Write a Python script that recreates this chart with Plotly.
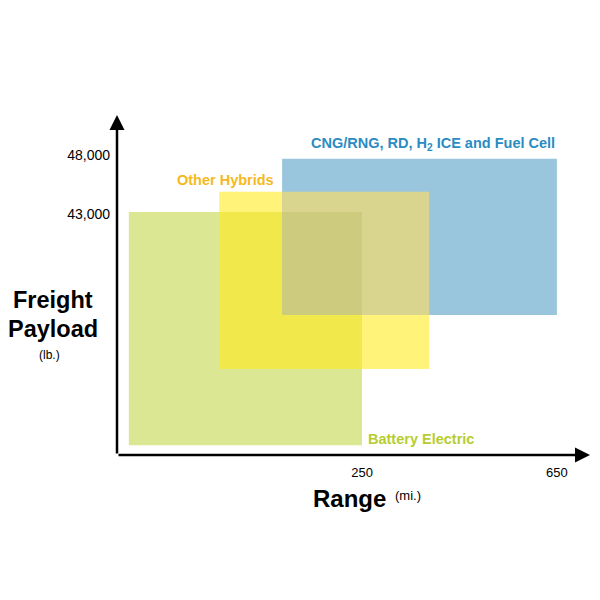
import plotly.graph_objects as go
from itertools import combinations

# ---- data (schematic units: 0-100 on each axis) ----
categories = ["Battery Electric", "Other Hybrids", "CNG/RNG, RD, H<sub>2</sub> ICE and Fuel Cell"]
range_start = [2.5, 21.6, 34.9]
range_end = [51.8, 66.0, 93.0]
payload_start = [2.9, 25.3, 41.2]
payload_end = [71.5, 77.4, 87.1]

x_tick_vals = [51.8, 93.0]
x_tick_text = ["250", "650"]
y_tick_vals = [88.2, 70.9]
y_tick_text = ["48,000", "43,000"]

# ---- styles ----
FONT = "Liberation Sans, Arial, Helvetica, sans-serif"
fill_single = {0: "#dce794", 1: "#fff37a", 2: "#99c6dd"}
fill_overlap = {(0, 1): "#f1e84c", (1, 2): "#d9d58f", (0, 2): "#cdcb7d", (0, 1, 2): "#cdcb7d"}
label_color = ["#b6cd2f", "#f5b91e", "#2a8cc2"]
LABEL_SIZE = 14.5

fig = go.Figure()
shapes = []


def add_rect(x0, x1, y0, y1, color):
    shapes.append(dict(type="rect", xref="x", yref="y", x0=x0, x1=x1, y0=y0, y1=y1,
                       fillcolor=color, line=dict(width=0), layer="below"))


# single rectangles
for i in range(3):
    add_rect(range_start[i], range_end[i], payload_start[i], payload_end[i], fill_single[i])

# overlaps, computed from the data
for k in (2, 3):
    for combo in combinations(range(3), k):
        x0 = max(range_start[i] for i in combo)
        x1 = min(range_end[i] for i in combo)
        y0 = max(payload_start[i] for i in combo)
        y1 = min(payload_end[i] for i in combo)
        if x1 > x0 and y1 > y0:
            add_rect(x0, x1, y0, y1, fill_overlap[combo])

# invisible trace so axes render
fig.add_trace(go.Scatter(x=[0, 100], y=[0, 100], mode="markers",
                         marker=dict(opacity=0), hoverinfo="skip", showlegend=False))

annotations = []
# axis arrows
annotations.append(dict(x=0, y=100, ax=0, ay=0, xref="x", yref="y", axref="x", ayref="y",
                        showarrow=True, arrowhead=2, arrowsize=1.2, arrowwidth=2.5,
                        arrowcolor="black", text=""))
annotations.append(dict(x=100, y=0, ax=0, ay=0, xref="x", yref="y", axref="x", ayref="y",
                        showarrow=True, arrowhead=2, arrowsize=1.2, arrowwidth=2.5,
                        arrowcolor="black", text=""))

# series labels
annotations.append(dict(x=range_end[0], y=payload_start[0], xref="x", yref="y",
                        xanchor="left", yanchor="bottom", xshift=4, yshift=-4,
                        text="<b>" + categories[0] + "</b>", showarrow=False,
                        font=dict(family=FONT, size=LABEL_SIZE, color=label_color[0])))
annotations.append(dict(x=range_start[1], y=payload_end[1], xref="x", yref="y",
                        xanchor="center", yanchor="bottom", xshift=6, yshift=2,
                        text="<b>" + categories[1] + "</b>", showarrow=False,
                        font=dict(family=FONT, size=LABEL_SIZE, color=label_color[1])))
annotations.append(dict(x=range_end[2], y=payload_end[2], xref="x", yref="y",
                        xanchor="right", yanchor="bottom", xshift=0, yshift=4,
                        text="<b>" + categories[2] + "</b>", showarrow=False,
                        font=dict(family=FONT, size=LABEL_SIZE, color=label_color[2])))

# axis titles
for txt, px, py, sz in [("<b>Freight</b>", -0.1353, 0.456, 23.5),
                        ("<b>Payload</b>", -0.1353, 0.371, 23.5),
                        ("(lb.)", -0.142, 0.294, 12),
                        ("<b>Range</b>", 0.4915, -0.1265, 24),
                        ("(mi.)", 0.616, -0.118, 13)]:
    annotations.append(dict(x=px, y=py, xref="paper", yref="paper", text=txt,
                            xanchor="center", yanchor="middle", showarrow=False,
                            font=dict(family=FONT, size=sz, color="black")))

fig.update_layout(
    width=600, height=600,
    margin=dict(l=109, r=18, t=107, b=153),
    paper_bgcolor="white", plot_bgcolor="white",
    shapes=shapes, annotations=annotations,
    showlegend=False,
    xaxis=dict(range=[0, 100], showgrid=False, zeroline=False, showline=False,
               tickmode="array", tickvals=x_tick_vals, ticktext=x_tick_text,
               ticks="", ticklabelstandoff=8,
               tickfont=dict(family=FONT, size=13, color="black")),
    yaxis=dict(range=[0, 100], showgrid=False, zeroline=False, showline=False,
               tickmode="array", tickvals=y_tick_vals, ticktext=y_tick_text,
               ticks="", ticklabelstandoff=6,
               tickfont=dict(family=FONT, size=14, color="black")),
)

fig.write_html("out.html")
